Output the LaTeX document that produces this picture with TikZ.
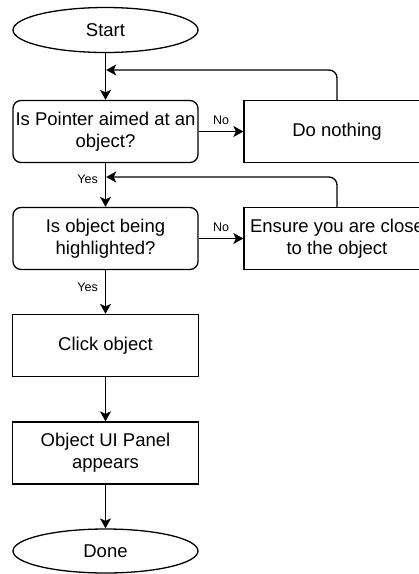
\documentclass[tikz,border=0pt]{standalone}
\usepackage{fontspec}
\setmainfont{Liberation Sans}
\usetikzlibrary{shapes.geometric,arrows.meta}

\tikzstyle{terminal}=[draw,ellipse,line width=1.3pt,minimum width=185pt,
    minimum height=45pt,inner sep=0pt,font=\fontsize{18.5}{22}\selectfont]
\tikzstyle{decision}=[draw,rounded corners=8pt,line width=1.3pt,minimum width=185pt,
    minimum height=62pt,inner sep=0pt,align=center,font=\fontsize{18.5}{22}\selectfont]
\tikzstyle{process}=[draw,line width=1.3pt,minimum width=186pt,
    minimum height=62pt,inner sep=0pt,align=center,font=\fontsize{18.5}{22}\selectfont]
\tikzstyle{flow}=[line width=1.3pt,-{Stealth[length=10pt,width=11pt,inset=2.5pt]}]
\tikzstyle{branch}=[font=\fontsize{12.5}{14}\selectfont,inner sep=1pt]

\begin{document}
\begin{tikzpicture}[x=1pt,y=-1pt]
    \clip (0,0) rectangle (419,574);

    \node[terminal] at (105.5,30) (Start) {Start};
    \node[decision] at (105.5,131.5) (Aimed) {Is Pointer aimed at an\\object?};
    \node[process] at (337,131.5) (Nothing) {Do nothing};
    \node[decision] at (105.5,238.5) (Highlit) {Is object being\\highlighted?};
    \node[process] at (337,238.5) (Ensure) {Ensure you are close\\to the object};
    \node[process] at (105.5,345.5) (Click) {Click object};
    \node[process] at (105.5,453) (Panel) {Object UI Panel\\appears};
    \node[terminal,minimum height=44pt] at (105.5,551) (Done) {Done};

    \coordinate (J1) at (106.2,70);
    \coordinate (J2) at (106.2,177);

    \draw[flow] (Start) -- (Aimed);
    \draw[flow] (Aimed) -- node[branch,above=5pt]{No} (Nothing);
    \draw[flow,rounded corners=8pt] (Nothing.north) |- (J1);
    \draw[flow] (Aimed) -- node[branch,left=6pt,pos=0.38]{Yes} (Highlit);
    \draw[flow] (Highlit) -- node[branch,above=5pt]{No} (Ensure);
    \draw[flow,rounded corners=8pt] (Ensure.north) |- (J2);
    \draw[flow] (Highlit) -- node[branch,left=6pt,pos=0.38]{Yes} (Click);
    \draw[flow] (Click) -- (Panel);
    \draw[flow] (Panel) -- (Done);
\end{tikzpicture}
\end{document}
